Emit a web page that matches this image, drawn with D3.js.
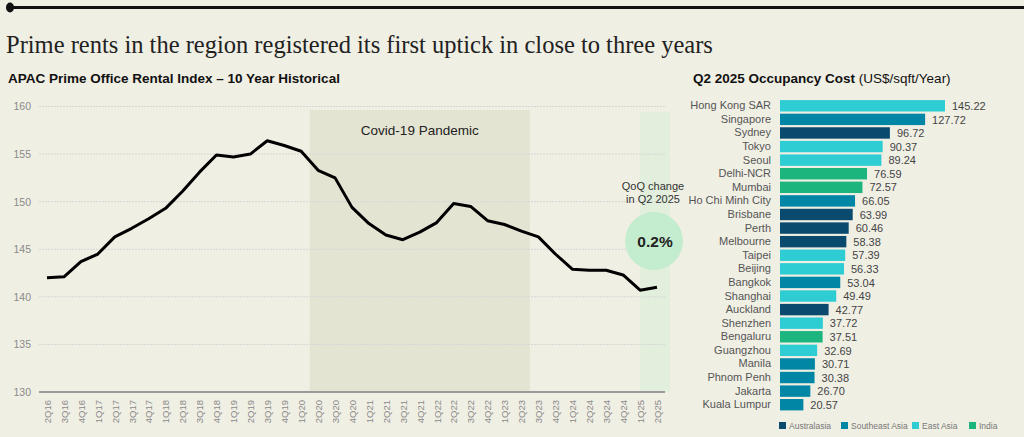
<!DOCTYPE html>
<html>
<head>
<meta charset="utf-8">
<script src="https://cdn.jsdelivr.net/npm/d3@7"></script>
<style>
  html, body { margin: 0; padding: 0; background: #f0efe4; }
  svg { display: block; font-family: "Liberation Sans", Arial, sans-serif; }
</style>
</head>
<body>
<div id="chart"></div>
<script>
// APAC prime office rental index, 2Q16 - 2Q25
var quarters = ["2Q16","3Q16","4Q16","1Q17","2Q17","3Q17","4Q17","1Q18","2Q18","3Q18","4Q18",
  "1Q19","2Q19","3Q19","4Q19","1Q20","2Q20","3Q20","4Q20","1Q21","2Q21","3Q21","4Q21",
  "1Q22","2Q22","3Q22","4Q22","1Q23","2Q23","3Q23","4Q23","1Q24","2Q24","3Q24","4Q24","1Q25","2Q25"];
var rentIndex = [142.0,142.1,143.7,144.5,146.3,147.2,148.2,149.3,151.1,153.1,154.9,
  154.7,155.0,156.4,155.9,155.3,153.3,152.5,149.4,147.7,146.5,146.0,146.8,
  147.8,149.8,149.5,148.0,147.6,146.9,146.3,144.5,142.9,142.8,142.8,142.3,140.7,141.0];
var yTicks = [130,135,140,145,150,155,160];
var covidStart = "2Q20", covidEnd = "2Q23";

// occupancy cost, Q2 2025
var cities = ["Hong Kong SAR","Singapore","Sydney","Tokyo","Seoul","Delhi-NCR","Mumbai",
  "Ho Chi Minh City","Brisbane","Perth","Melbourne","Taipei","Beijing","Bangkok","Shanghai",
  "Auckland","Shenzhen","Bengaluru","Guangzhou","Manila","Phnom Penh","Jakarta","Kuala Lumpur"];
var costs = [145.22,127.72,96.72,90.37,89.24,76.59,72.57,66.05,63.99,60.46,58.38,57.39,56.33,
  53.04,49.49,42.77,37.72,37.51,32.69,30.71,30.38,26.70,20.57];
var regions = ["East Asia","Southeast Asia","Australasia","East Asia","East Asia","India","India",
  "Southeast Asia","Australasia","Australasia","Australasia","East Asia","East Asia","Southeast Asia",
  "East Asia","Australasia","East Asia","India","East Asia","Southeast Asia","Southeast Asia",
  "Southeast Asia","Southeast Asia"];
var regionNames = ["Australasia","Southeast Asia","East Asia","India"];
var regionColors = ["#0b4a6f","#0286a6","#2ecdd4","#1cb57e"];

var W = 1024, H = 437;
var svg = d3.select("#chart").append("svg").attr("width", W).attr("height", H);

// top rule
svg.append("line").attr("x1", 8).attr("x2", W).attr("y1", 7.5).attr("y2", 7.5)
    .attr("stroke", "#111").attr("stroke-width", 3);
svg.append("ellipse").attr("cx", 10).attr("cy", 7.5).attr("rx", 4).attr("ry", 5).attr("fill", "#111");

svg.append("text").attr("x", 6).attr("y", 53)
    .style("font-family", "'Liberation Serif', 'DejaVu Serif', serif")
    .style("font-size", "24.5px").attr("fill", "#222")
    .text("Prime rents in the region registered its first uptick in close to three years");

// ---- line chart ----
svg.append("text").attr("x", 8).attr("y", 83)
    .style("font-size", "13.5px").style("font-weight", "bold").attr("fill", "#111")
    .text("APAC Prime Office Rental Index \u2013 10 Year Historical");

var x = d3.scalePoint().domain(quarters).range([47, 657]);
var step = x.step();
var y = d3.scaleLinear().domain([130, 160]).range([392, 106.5]);
var plotL = 39, plotR = 665;

var lc = svg.append("g");

// covid band
lc.append("rect")
    .attr("x", x(covidStart) - step / 2)
    .attr("y", 110)
    .attr("width", x(covidEnd) - x(covidStart) + step)
    .attr("height", y(130) - 110)
    .attr("fill", "#e4e4d3");
lc.append("text").attr("x", (x(covidStart) + x(covidEnd)) / 2).attr("y", 135)
    .attr("text-anchor", "middle").style("font-size", "13.5px").attr("fill", "#222")
    .text("Covid-19 Pandemic");

// latest quarter band
lc.append("rect")
    .attr("x", x("1Q25"))
    .attr("y", 112)
    .attr("width", x("2Q25") - x("1Q25") + 13)
    .attr("height", y(130) - 112)
    .attr("fill", "#e1efdc");

// grid
lc.append("g").selectAll("line").data(yTicks.filter(function(d){ return d > 130; }))
  .enter().append("line")
    .attr("x1", plotL).attr("x2", plotR)
    .attr("y1", function(d){ return y(d); }).attr("y2", function(d){ return y(d); })
    .attr("stroke", "#d6d6d6").attr("stroke-width", 1).attr("stroke-dasharray", "2,1");

var yAxis = lc.append("g").attr("transform", "translate(" + plotL + ",0)")
    .call(d3.axisLeft(y).tickValues(yTicks).tickSize(0).tickPadding(8));
yAxis.select(".domain").remove();
yAxis.selectAll("text").style("font-size", "10.5px").attr("fill", "#8a8a8a")
    .style("font-family", "'Liberation Sans', Arial, sans-serif");

var xAxis = lc.append("g").attr("transform", "translate(0," + y(130) + ")")
    .call(d3.axisBottom(x).tickSize(0).tickPadding(0));
xAxis.select(".domain").remove();
xAxis.selectAll("text")
    .style("font-size", "9.5px").attr("fill", "#8a8a8a")
    .style("font-family", "'Liberation Sans', Arial, sans-serif")
    .attr("transform", "rotate(-90)")
    .attr("text-anchor", "end").attr("dy", "0.35em").attr("x", -8).attr("y", 0);
lc.append("line").attr("x1", plotL).attr("x2", plotR).attr("y1", y(130)).attr("y2", y(130))
    .attr("stroke", "#9a9a9a").attr("stroke-width", 2);

lc.append("path").datum(rentIndex)
    .attr("fill", "none").attr("stroke", "#000").attr("stroke-width", 3)
    .attr("stroke-linejoin", "round")
    .attr("d", d3.line().x(function(d, i){ return x(quarters[i]); }).y(function(d){ return y(d); }));

// QoQ annotation
lc.append("text").attr("x", 653).attr("y", 190).attr("text-anchor", "middle")
    .style("font-size", "11px").attr("fill", "#333").text("QoQ change");
lc.append("text").attr("x", 653).attr("y", 203).attr("text-anchor", "middle")
    .style("font-size", "11px").attr("fill", "#333").text("in Q2 2025");
lc.append("circle").attr("cx", 654).attr("cy", 241).attr("r", 29).attr("fill", "#c4ecce");
lc.append("text").attr("x", 655).attr("y", 246.5).attr("text-anchor", "middle")
    .style("font-size", "15.5px").style("font-weight", "bold").attr("fill", "#222").text("0.2%");

// ---- bar chart ----
var bt = svg.append("text").attr("x", 693).attr("y", 83).style("font-size", "13.5px").attr("fill", "#111");
bt.append("tspan").style("font-weight", "bold").text("Q2 2025 Occupancy Cost ");
bt.append("tspan").text("(US$/sqft/Year)");

var bx = d3.scaleLinear().domain([0, 145.22]).range([780, 945]);
var by = d3.scaleBand().domain(cities).range([99, 411.5]).paddingInner(0.16).paddingOuter(0.08);
var color = d3.scaleOrdinal().domain(regionNames).range(regionColors);

var bars = svg.append("g").selectAll(".bar")
    .data(cities)
  .enter().append("g")
    .attr("class", "bar");

bars.append("rect")
    .attr("x", bx(0))
    .attr("y", function(d){ return by(d); })
    .attr("width", function(d, i){ return bx(costs[i]) - bx(0); })
    .attr("height", by.bandwidth())
    .attr("fill", function(d, i){ return color(regions[i]); });

bars.append("text")
    .attr("x", function(d, i){ return bx(costs[i]) + 7; })
    .attr("y", function(d){ return by(d) + by.bandwidth() / 2; })
    .attr("dy", "0.38em")
    .style("font-size", "11px").attr("fill", "#444")
    .text(function(d, i){ return costs[i].toFixed(2); });

var cAxis = svg.append("g").attr("transform", "translate(" + (bx(0) - 2) + ",0)")
    .call(d3.axisLeft(by).tickSize(0).tickPadding(7));
cAxis.select(".domain").remove();
cAxis.selectAll("text").style("font-size", "11px").attr("fill", "#555")
    .style("font-family", "'Liberation Sans', Arial, sans-serif");

// legend
var legX = [779, 841, 912, 969];
var leg = svg.append("g").selectAll("g").data(regionNames)
  .enter().append("g")
    .attr("transform", function(d, i){ return "translate(" + legX[i] + ",422)"; });
leg.append("rect").attr("width", 7).attr("height", 7).attr("fill", function(d){ return color(d); });
leg.append("text").attr("x", 10).attr("y", 6.5).style("font-size", "8.5px").attr("fill", "#777")
    .text(function(d){ return d; });
</script>
</body>
</html>
